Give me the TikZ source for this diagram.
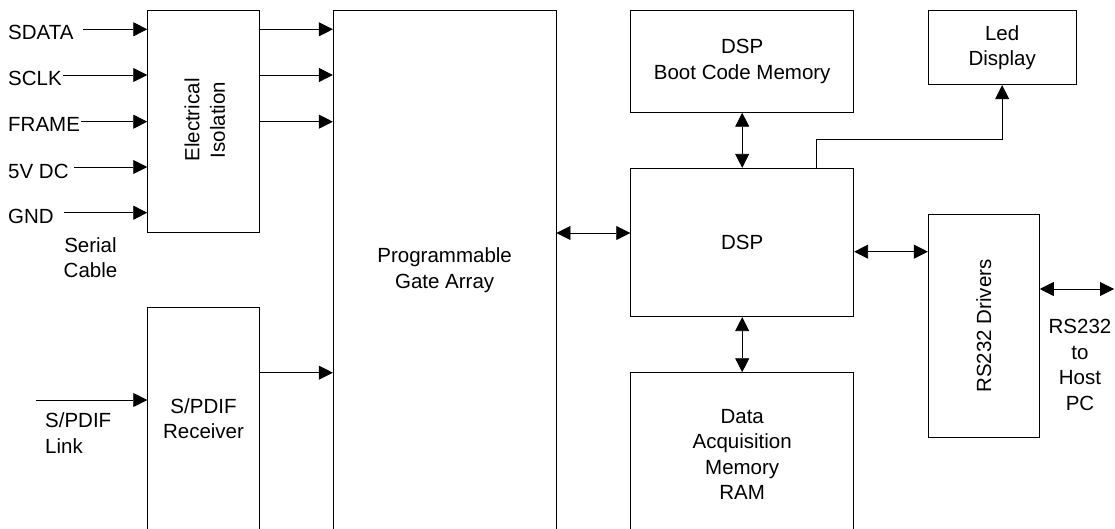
\documentclass[tikz,border=0pt]{standalone}
\usepackage{fontspec}
\setmainfont{Liberation Sans}
\usetikzlibrary{arrows.meta}
\begin{document}
\begin{tikzpicture}[x=1pt,y=-1pt,
  blk/.style={draw,line width=0.9pt,inner sep=0pt,align=center},
  lbl/.style={inner sep=0pt,align=center},
  arr/.style={line width=0.9pt,-{Triangle[length=14pt,width=14pt]}},
  darr/.style={line width=0.9pt,{Triangle[length=14pt,width=14pt]}-{Triangle[length=14pt,width=14pt]}},
  every node/.style={font=\fontsize{20.5}{25.5}\selectfont}]
\useasboundingbox (0,0) rectangle (1115,529);
\clip (0,0) rectangle (1115,529);
% boxes
\node[blk,minimum width=111.6pt,minimum height=222.4pt] (elec) at (203.5,121.5) {};
\node[lbl,rotate=90] (eleclbl) at (204.8,120) {Electrical\\Isolation};
\node[blk,minimum width=111.6pt,minimum height=222.3pt] (spdif) at (203.5,418.85) {S/PDIF\\Receiver};
\node[blk,minimum width=222.7pt,minimum height=519.7pt] (pga) at (444.65,270.15) {Programmable\\Gate Array};
\node[blk,minimum width=223pt,minimum height=102pt] (boot) at (742.2,61.3) {DSP\\Boot Code Memory};
\node[blk,minimum width=148.3pt,minimum height=74.4pt] (led) at (1002.15,47.5) {Led\\Display};
\node[blk,minimum width=223pt,minimum height=148.4pt] (dsp) at (742.2,242.5) {DSP};
\node[blk,minimum width=223pt,minimum height=163.3pt] (daq) at (742.2,454.35) {Data\\Acquisition\\Memory\\RAM};
\node[blk,minimum width=111pt,minimum height=223pt] (rs) at (983.8,325.8) {};
\node[lbl,rotate=90] (rslbl) at (983.8,326) {RS232 Drivers};
% left labels
\node[lbl,anchor=base west] (lsdata) at (8,39.3) {SDATA};
\node[lbl,anchor=base west] (lsclk) at (8,86) {SCLK};
\node[lbl,anchor=base west] (lframe) at (8,132) {FRAME};
\node[lbl,anchor=base west] (l5v) at (8,179) {5V DC};
\node[lbl,anchor=base west] (lgnd) at (8,223.7) {GND};
\node[lbl] (lserial) at (90.5,257.5) {Serial\\Cable};
\node[lbl,align=left,anchor=west] (llink) at (45,433) {S/PDIF\\Link};
\node[lbl] (lhost) at (1080,365) {RS232\\to\\Host\\PC};
% input coordinates
\coordinate (sdataS) at (83,29.3);
\coordinate (sclkS) at (63,75);
\coordinate (frameS) at (81,121.7);
\coordinate (dcS) at (74,167);
\coordinate (gndS) at (64,212.7);
\coordinate (linkS) at (36,400);
\coordinate (host) at (1114,289);
\coordinate (spdifout) at (259.3,372.7);
% connectors
\draw[arr] (sdataS) -- (sdataS -| elec.west);
\draw[arr] (sclkS) -- (sclkS -| elec.west);
\draw[arr] (frameS) -- (frameS -| elec.west);
\draw[arr] (dcS) -- (dcS -| elec.west);
\draw[arr] (gndS) -- (gndS -| elec.west);
\draw[arr] (elec.east |- sdataS) -- (pga.west |- sdataS);
\draw[arr] (elec.east |- sclkS) -- (pga.west |- sclkS);
\draw[arr] (elec.east |- frameS) -- (pga.west |- frameS);
\draw[arr] (linkS) -- (linkS -| spdif.west);
\draw[arr] (spdifout -| spdif.east) -- (spdifout -| pga.west);
\coordinate (p1) at ([yshift=9.5pt]dsp.west);
\draw[darr] (p1 -| pga.east) -- (p1);
\coordinate (p2) at ([yshift=-9.2pt]dsp.east);
\draw[darr] (p2) -- (p2 -| rs.west);
\draw[darr] (boot.south) -- (dsp.north);
\draw[darr] (dsp.south) -- (daq.north);
\coordinate (p3) at ([yshift=36.8pt]rs.east);
\draw[darr] (p3) -- (host);
\draw[arr] ([xshift=-37.7pt]dsp.north east) -- ++(0pt,28pt) -| (led.south);
\end{tikzpicture}
\end{document}
